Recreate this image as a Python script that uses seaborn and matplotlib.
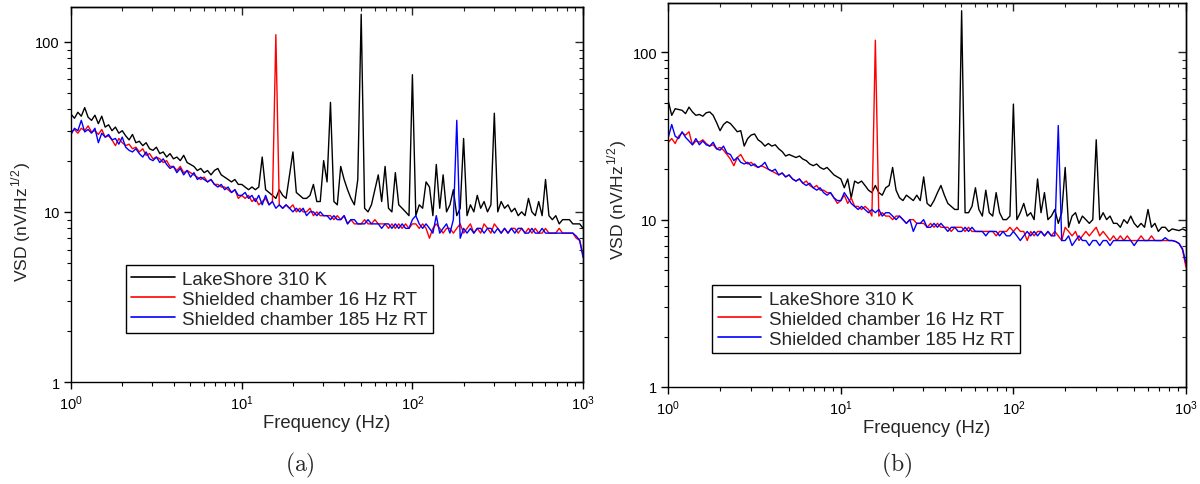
import numpy as np
import pandas as pd
import matplotlib
matplotlib.use("Agg")
import matplotlib.pyplot as plt
import matplotlib.ticker as mticker
import seaborn as sns

# ---------------- data ----------------
# common log-spaced frequency grid (50 points per decade, 1 Hz .. 1 kHz)
freq = 10 ** (np.arange(151) / 50.0)

series_names = ["LakeShore 310 K", "Shielded chamber 16 Hz RT", "Shielded chamber 185 Hz RT"]
series_colors = ["#000000", "#ff0000", "#0000ff"]

# panel (a)
a_lakeshore = [
    37.5, 35.5, 38.5, 36.5, 41.0, 36.0, 34.5, 37.0, 33.0, 36.5,
    31.5, 32.5, 30.0, 31.5, 29.0, 30.0, 28.0, 26.5, 28.5, 25.5,
    26.0, 24.5, 25.5, 23.5, 23.0, 24.0, 22.0, 22.5, 21.0, 22.0,
    20.5, 21.0, 20.0, 21.5, 19.5, 19.0, 18.5, 17.5, 18.0, 17.0,
    17.5, 16.5, 17.5, 18.0, 16.5, 16.0, 15.5, 15.0, 15.5, 14.5,
    14.5, 14.0, 13.5, 14.0, 13.5, 14.0, 21.0, 13.5, 13.0, 12.5,
    12.0, 13.5, 12.5, 12.0, 16.5, 22.5, 13.0, 12.5, 12.0, 12.0,
    12.5, 14.5, 11.5, 11.5, 20.0, 15.0, 44.0, 11.5, 11.0, 18.5,
    15.5, 13.5, 12.0, 11.0, 15.5, 145.0, 10.5, 10.0, 11.0, 13.5,
    16.5, 11.5, 18.5, 10.5, 10.0, 17.0, 11.0, 10.5, 10.0, 9.5,
    64.0, 9.5, 11.0, 10.5, 15.0, 14.0, 9.5, 19.0, 10.5, 16.5,
    10.0, 11.0, 13.5, 9.5, 10.5, 27.0, 9.5, 11.0, 10.0, 12.5,
    10.5, 11.5, 10.0, 11.0, 38.0, 10.0, 11.5, 10.5, 11.0, 10.0,
    10.5, 9.5, 10.0, 9.5, 12.0, 10.0, 9.5, 11.5, 9.5, 15.5,
    9.5, 9.0, 9.5, 8.5, 9.0, 9.0, 9.0, 8.5, 8.5, 8.5,
    8.0,
]
a_shield16 = [
    29.5, 30.5, 29.0, 31.0, 30.0, 32.0, 29.5, 30.0, 28.5, 30.5,
    27.5, 28.0, 26.5, 24.5, 27.0, 25.5, 24.5, 25.0, 23.5, 24.0,
    22.5, 23.5, 21.5, 22.0, 20.5, 21.0, 20.5, 19.5, 20.0, 18.5,
    18.5, 17.5, 18.5, 17.0, 17.5, 17.0, 16.5, 16.0, 15.5, 16.0,
    15.0, 15.5, 14.5, 14.5, 14.0, 14.0, 13.5, 13.0, 13.5, 12.0,
    12.5, 12.0, 12.5, 11.5, 12.0, 11.0, 11.5, 12.0, 11.0, 11.5,
    110.0, 11.0, 10.5, 11.0, 10.5, 11.0, 10.0, 10.5, 10.0, 10.0,
    10.5, 9.5, 10.0, 9.5, 9.5, 9.5, 9.5, 9.0, 9.5, 9.0,
    9.5, 8.5, 9.0, 8.5, 8.5, 8.5, 9.0, 8.5, 8.5, 9.0,
    8.5, 8.5, 8.5, 8.0, 8.5, 8.0, 8.5, 8.0, 8.5, 8.0,
    8.5, 8.5, 8.0, 8.5, 8.0, 7.0, 8.0, 8.5, 8.0, 7.5,
    8.0, 8.0, 7.5, 8.0, 8.5, 7.5, 8.0, 8.5, 7.5, 8.0,
    7.5, 8.5, 8.0, 7.5, 8.5, 8.0, 7.5, 8.0, 7.5, 8.0,
    8.0, 7.5, 8.0, 7.5, 8.0, 7.5, 8.0, 7.5, 7.5, 8.0,
    7.5, 7.5, 7.5, 8.0, 7.5, 7.5, 7.5, 7.5, 7.0, 6.8,
    5.6,
]
a_shield185 = [
    28.5, 31.0, 30.0, 34.5, 29.5, 30.5, 29.0, 31.0, 25.5, 29.0,
    27.5, 28.5, 26.5, 27.0, 25.0, 27.5, 24.0, 23.0, 22.5, 23.5,
    22.0, 21.0, 22.5, 20.5, 20.0, 21.0, 19.5, 20.5, 19.0, 18.0,
    18.5, 17.0, 18.0, 16.5, 17.5, 16.0, 17.0, 15.5, 16.0, 15.5,
    15.0, 15.5, 14.5, 14.0, 14.5, 13.5, 14.0, 13.0, 13.5, 12.5,
    12.5, 13.0, 12.0, 12.5, 11.5, 12.5, 11.0, 12.5, 11.0, 11.5,
    10.5, 11.0, 10.5, 11.0, 10.5, 10.0, 10.5, 10.0, 10.5, 9.5,
    10.0, 10.0, 9.5, 10.0, 9.5, 9.5, 9.0, 9.5, 9.0, 9.0,
    9.5, 8.5, 9.0, 9.0, 8.5, 8.5, 8.5, 9.0, 8.5, 8.5,
    8.5, 8.0, 8.5, 8.5, 8.0, 8.5, 8.0, 8.5, 8.0, 8.0,
    9.0, 9.5, 8.5, 8.0, 8.5, 8.0, 7.5, 9.5, 7.5, 8.0,
    8.5, 7.5, 9.0, 34.5, 7.0, 8.0, 7.5, 8.0, 7.5, 8.0,
    8.0, 7.5, 8.0, 8.0, 7.5, 8.0, 7.5, 8.0, 7.5, 8.0,
    7.5, 8.0, 8.0, 7.5, 7.5, 8.0, 7.5, 7.5, 8.0, 7.5,
    7.5, 7.5, 7.5, 7.5, 7.5, 7.5, 7.5, 7.5, 7.2, 6.8,
    5.4,
]

# panel (b)
b_lakeshore = [
    51.0, 42.0, 46.0, 45.5, 45.0, 43.0, 47.0, 44.0, 42.0, 42.5,
    41.5, 43.5, 44.0, 42.0, 38.0, 34.0, 37.0, 38.5, 37.5, 35.5,
    33.5, 34.0, 27.5, 30.5, 32.0, 32.5, 30.0, 29.0, 27.5, 28.5,
    27.5, 28.0, 26.5, 25.5, 24.0, 24.5, 24.0, 23.5, 24.0, 23.0,
    22.5, 21.5, 21.0, 21.5, 20.5, 20.0, 20.5, 19.5, 18.5, 18.0,
    17.5, 15.5, 17.5, 13.5, 17.0, 16.5, 17.0, 16.0, 15.0, 14.5,
    16.0, 14.5, 14.0, 15.5, 16.0, 20.5, 15.0, 13.5, 13.0, 14.0,
    13.5, 13.0, 14.0, 13.0, 18.0, 12.5, 12.0, 13.0, 14.5, 16.0,
    14.0, 12.5, 12.0, 11.5, 11.5, 177.0, 11.0, 11.0, 12.0, 15.5,
    11.5, 10.5, 15.0, 11.0, 10.5, 14.5, 11.0, 10.0, 10.0, 10.5,
    49.0, 10.0, 11.0, 12.5, 10.5, 11.0, 10.0, 17.5, 11.0, 14.5,
    10.0, 10.5, 11.5, 9.5, 11.0, 20.5, 9.0, 10.5, 11.0, 9.5,
    10.5, 10.0, 9.5, 10.0, 30.0, 10.0, 11.0, 10.0, 10.5, 9.5,
    9.5, 9.0, 10.0, 9.5, 10.5, 9.5, 9.0, 9.5, 9.0, 11.5,
    9.0, 9.5, 8.5, 9.0, 9.0, 8.5, 8.8, 8.7, 8.6, 8.8,
    8.6,
]
b_shield16 = [
    29.0, 30.5, 28.5, 31.5, 33.0, 32.0, 33.5, 28.0, 29.5, 29.0,
    30.0, 28.5, 27.5, 28.0, 26.5, 27.0, 26.0, 24.5, 23.0, 21.0,
    23.5, 24.5, 22.5, 21.5, 22.0, 21.0, 20.5, 21.0, 20.5, 20.0,
    19.5, 19.0, 18.5, 19.0, 18.0, 18.5, 17.5, 17.0, 17.5, 16.5,
    17.0, 16.0, 15.5, 16.0, 15.0, 15.0, 14.5, 14.5, 13.5, 12.5,
    13.0, 14.0, 12.5, 13.5, 12.0, 12.0, 11.5, 12.0, 11.5, 10.5,
    118.0, 10.5, 11.0, 10.5, 10.5, 10.0, 10.5, 10.5, 10.0, 9.5,
    10.0, 10.0, 9.5, 9.5, 9.5, 9.0, 9.5, 9.0, 9.5, 9.0,
    9.0, 9.0, 8.5, 9.0, 9.0, 9.0, 8.5, 9.0, 8.5, 8.5,
    8.5, 8.5, 8.5, 8.5, 8.5, 8.0, 8.5, 8.5, 8.5, 9.0,
    8.5, 9.0, 8.5, 8.5, 7.5, 8.5, 8.0, 8.5, 8.5, 8.0,
    8.5, 8.0, 8.5, 8.0, 7.5, 9.0, 8.5, 8.0, 8.5, 7.5,
    8.0, 8.5, 8.0, 8.5, 9.0, 8.0, 8.5, 8.0, 7.5, 8.0,
    7.5, 8.0, 7.5, 8.0, 7.5, 7.5, 7.5, 8.0, 7.5, 7.5,
    8.0, 7.5, 7.5, 7.5, 7.5, 7.5, 7.5, 7.4, 7.2, 6.6,
    5.2,
]
b_shield185 = [
    31.0, 37.0, 31.5, 30.5, 33.5, 31.0, 29.5, 28.0, 30.5, 28.0,
    29.5, 28.0, 27.5, 29.0, 26.5, 26.0, 27.5, 25.0, 24.5, 22.5,
    23.5, 22.0, 21.5, 22.0, 21.0, 21.5, 20.5, 21.0, 22.0, 20.0,
    19.5, 20.0, 18.5, 19.0, 18.0, 18.5, 17.5, 17.0, 17.5, 16.5,
    16.0, 16.5, 15.5, 15.0, 15.5, 14.5, 14.0, 14.5, 13.5, 13.0,
    13.0, 14.5, 13.5, 12.5, 12.0, 11.5, 12.0, 11.5, 11.0, 11.5,
    11.0, 11.5, 10.5, 11.0, 11.0, 10.5, 10.0, 10.5, 10.0, 9.5,
    10.0, 8.5, 9.5, 9.5, 10.0, 9.0, 9.0, 9.5, 9.0, 9.5,
    9.0, 8.5, 9.0, 9.0, 8.5, 8.5, 9.0, 8.5, 9.0, 8.5,
    8.5, 8.5, 8.0, 8.5, 8.5, 8.5, 8.0, 8.5, 8.0, 8.0,
    8.5, 8.0, 7.5, 8.0, 8.5, 8.0, 8.5, 8.0, 8.5, 8.0,
    8.5, 8.0, 8.0, 36.5, 7.5, 7.5, 8.0, 7.0, 7.5, 8.0,
    7.5, 7.5, 7.0, 7.5, 7.5, 7.0, 7.5, 7.5, 7.0, 7.5,
    7.5, 7.5, 7.5, 7.5, 7.5, 7.0, 7.5, 7.5, 7.5, 7.5,
    7.5, 7.5, 7.5, 7.5, 7.8, 7.5, 7.5, 7.4, 7.2, 6.7,
    5.5,
]

x_label = "Frequency (Hz)"
y_label = r"VSD (nV/Hz$^{\mathregular{1/2}}$)"
captions = ["(a)", "(b)"]

# ---------------- style ----------------
sns.set_theme(style="white")
plt.rcParams["font.family"] = ["Liberation Sans", "DejaVu Sans"]
plt.rcParams["mathtext.fontset"] = "cm"
plt.rcParams["axes.linewidth"] = 1.0
plt.rcParams["axes.edgecolor"] = "black"

fig = plt.figure(figsize=(12, 4.85), dpi=100)

panels = [
    dict(pos=[0.0592, 0.2103, 0.4267, 0.7732], ytop=160.0,
         data=[a_lakeshore, a_shield16, a_shield185],
         leg=(0.107, 0.312), ylab=(-0.073, 0.43), cap=(300 / 1200, 1 - 465 / 485)),
    dict(pos=[0.5569, 0.2000, 0.4314, 0.7918], ytop=197.0,
         data=[b_lakeshore, b_shield16, b_shield185],
         leg=(0.085, 0.265), ylab=(-0.073, 0.49), cap=(897 / 1200, 1 - 465 / 485)),
]

for k, p in enumerate(panels):
    ax = fig.add_axes(p["pos"])
    frames = []
    for name, vals in zip(series_names, p["data"]):
        frames.append(pd.DataFrame({"freq": freq, "vsd": vals, "series": name}))
    df = pd.concat(frames, ignore_index=True)
    sns.lineplot(data=df, x="freq", y="vsd", hue="series", hue_order=series_names,
                 palette=series_colors, estimator=None, sort=False, lw=1.0, ax=ax)
    ax.set_xscale("log")
    ax.set_yscale("log")
    ax.set_xlim(1, 1000)
    ax.set_ylim(1, p["ytop"])

    ax.yaxis.set_major_formatter(mticker.FuncFormatter(lambda v, pos: f"{v:g}"))
    ax.yaxis.set_minor_formatter(mticker.NullFormatter())
    ax.xaxis.set_minor_formatter(mticker.NullFormatter())
    ax.tick_params(which="major", direction="out", length=5, width=1.0,
                   labelsize=10.5, colors="black", pad=3)
    ax.tick_params(which="minor", direction="out", length=3, width=0.8, colors="black")
    ax.tick_params(top=False, right=False, bottom=True, left=True, which="both")

    # top / right inward ticks
    sx = ax.secondary_xaxis("top")
    sx.tick_params(which="major", direction="in", length=6, width=1.0)
    sx.tick_params(which="minor", direction="in", length=3, width=0.8)
    sx.xaxis.set_major_formatter(mticker.NullFormatter())
    sx.xaxis.set_minor_formatter(mticker.NullFormatter())
    sy = ax.secondary_yaxis("right")
    sy.tick_params(which="major", direction="in", length=6, width=1.0)
    sy.tick_params(which="minor", direction="in", length=3, width=0.8)
    sy.yaxis.set_major_formatter(mticker.NullFormatter())
    sy.yaxis.set_minor_formatter(mticker.NullFormatter())

    ax.set_xlabel(x_label, fontsize=13.3, labelpad=2)
    ax.set_ylabel(y_label, fontsize=12.6)
    ax.yaxis.set_label_coords(*p["ylab"])

    handles, labels = ax.get_legend_handles_labels()
    leg = ax.legend(handles, labels, loc="upper left", bbox_to_anchor=p["leg"],
                    fontsize=13.5, frameon=True, fancybox=False, framealpha=1,
                    edgecolor="black", handlelength=2.3, handletextpad=0.4,
                    labelspacing=0.15, borderpad=0.3, borderaxespad=0)
    leg.get_frame().set_linewidth(1.0)
    for line in leg.get_lines():
        line.set_linewidth(1.2)

    fig.text(p["cap"][0], p["cap"][1], r"$\mathrm{" + captions[k] + "}$",
             ha="center", va="center", fontsize=17)

fig.savefig("out.png", dpi=100)
